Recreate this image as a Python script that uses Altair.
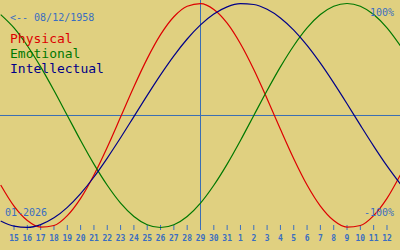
import altair as alt
import pandas as pd

# day index -1..29 (index 0 = Jan 15, 2026)
day_index = list(range(-1, 30))
physical = [-0.620, -0.809, -0.938, -0.997, -0.982, -0.894, -0.740, -0.531, -0.283, -0.014,
            0.257, 0.508, 0.722, 0.882, 0.976, 0.999, 0.947, 0.825, 0.641, 0.411,
            0.150, -0.123, -0.386, -0.621, -0.809, -0.938, -0.997, -0.982, -0.894, -0.740,
            -0.531]
emotional = [0.901, 0.782, 0.623, 0.434, 0.223, 0.000, -0.223, -0.434, -0.623, -0.782,
             -0.901, -0.975, -1.000, -0.975, -0.901, -0.782, -0.623, -0.434, -0.223, 0.000,
             0.223, 0.434, 0.623, 0.782, 0.901, 0.975, 1.000, 0.975, 0.901, 0.782,
             0.623]
intellectual = [-0.942, -0.988, -0.999, -0.974, -0.914, -0.820, -0.697, -0.549, -0.380, -0.199,
                -0.010, 0.180, 0.363, 0.533, 0.683, 0.809, 0.906, 0.970, 0.998, 0.991,
                0.948, 0.871, 0.762, 0.626, 0.467, 0.291, 0.105, -0.086, -0.273, -0.450,
                -0.611]

tick_labels = ["15", "16", "17", "18", "19", "20", "21", "22", "23", "24", "25", "26", "27",
               "28", "29", "30", "31", "1", "2", "3", "4", "5", "6", "7", "8", "9", "10",
               "11", "12"]
today_index = [14]
series_names = ["Physical", "Emotional", "Intellectual"]
series_colors = ["#DD0000", "#007800", "#000088"]

BG = "#E0D080"
BLUE = "#3A6EC0"
LINE_BLUE = "#3A6EB4"
FONT = "DejaVu Sans Mono"

rows = []
for name, vals in zip(series_names, [physical, emotional, intellectual]):
    for d, v in zip(day_index, vals):
        rows.append({"day": d, "value": v, "series": name})
curves = pd.DataFrame(rows)

xs = alt.Scale(domain=[-1.0526, 28.977], nice=False, zero=False)
ys = alt.Scale(domain=[-1.2009, 1.03125], nice=False, zero=False)

lines = alt.Chart(curves).mark_line(strokeWidth=1.2, clip=True, interpolate="monotone").encode(
    x=alt.X("day:Q", scale=xs, axis=None),
    y=alt.Y("value:Q", scale=ys, axis=None),
    color=alt.Color("series:N", scale=alt.Scale(domain=series_names, range=series_colors), legend=None),
    detail="series:N",
)

hline = alt.Chart(pd.DataFrame({"v": [0]})).mark_rule(color=LINE_BLUE, strokeWidth=1).encode(
    y=alt.Y("v:Q", scale=ys, axis=None)
)

vline = alt.Chart(pd.DataFrame({"d": today_index})).mark_rule(color=LINE_BLUE, strokeWidth=1).encode(
    x=alt.X("d:Q", scale=xs, axis=None), y=alt.value(0), y2=alt.value(229)
)

ticks_df = pd.DataFrame({"d": list(range(29)), "label": tick_labels})
ticks = alt.Chart(ticks_df).mark_rule(color=BLUE, strokeWidth=1).encode(
    x=alt.X("d:Q", scale=xs, axis=None), y=alt.value(225), y2=alt.value(230)
)
tick_text = alt.Chart(ticks_df).mark_text(
    color=BLUE, font=FONT, fontSize=8, fontWeight="bold", align="center", baseline="alphabetic"
).encode(x=alt.X("d:Q", scale=xs, axis=None), y=alt.value(241), text="label:N")

def label(txt, x, y, color, size, align="left"):
    return alt.Chart(pd.DataFrame({"t": [txt]})).mark_text(
        color=color, font=FONT, fontSize=size, align=align, baseline="alphabetic"
    ).encode(x=alt.value(x), y=alt.value(y), text="t:N")

texts = [
    label("<-- 08/12/1958", 10, 21, BLUE, 10),
    label("Physical", 10, 43, series_colors[0], 13),
    label("Emotional", 10, 58, series_colors[1], 13),
    label("Intellectual", 10, 73, series_colors[2], 13),
    label("01-2026", 5, 216, BLUE, 10),
    label("100%", 394, 16, BLUE, 10, "right"),
    label("-100%", 394, 216, BLUE, 10, "right"),
]

chart = alt.layer(hline, vline, ticks, tick_text, lines, *texts).properties(
    width=400, height=250, padding=0, autosize=alt.AutoSizeParams(type="none"),
    background=BG,
).configure_view(stroke=None, fill=BG)

chart.save("out.html", embed_options={"renderer": "svg", "actions": False})
